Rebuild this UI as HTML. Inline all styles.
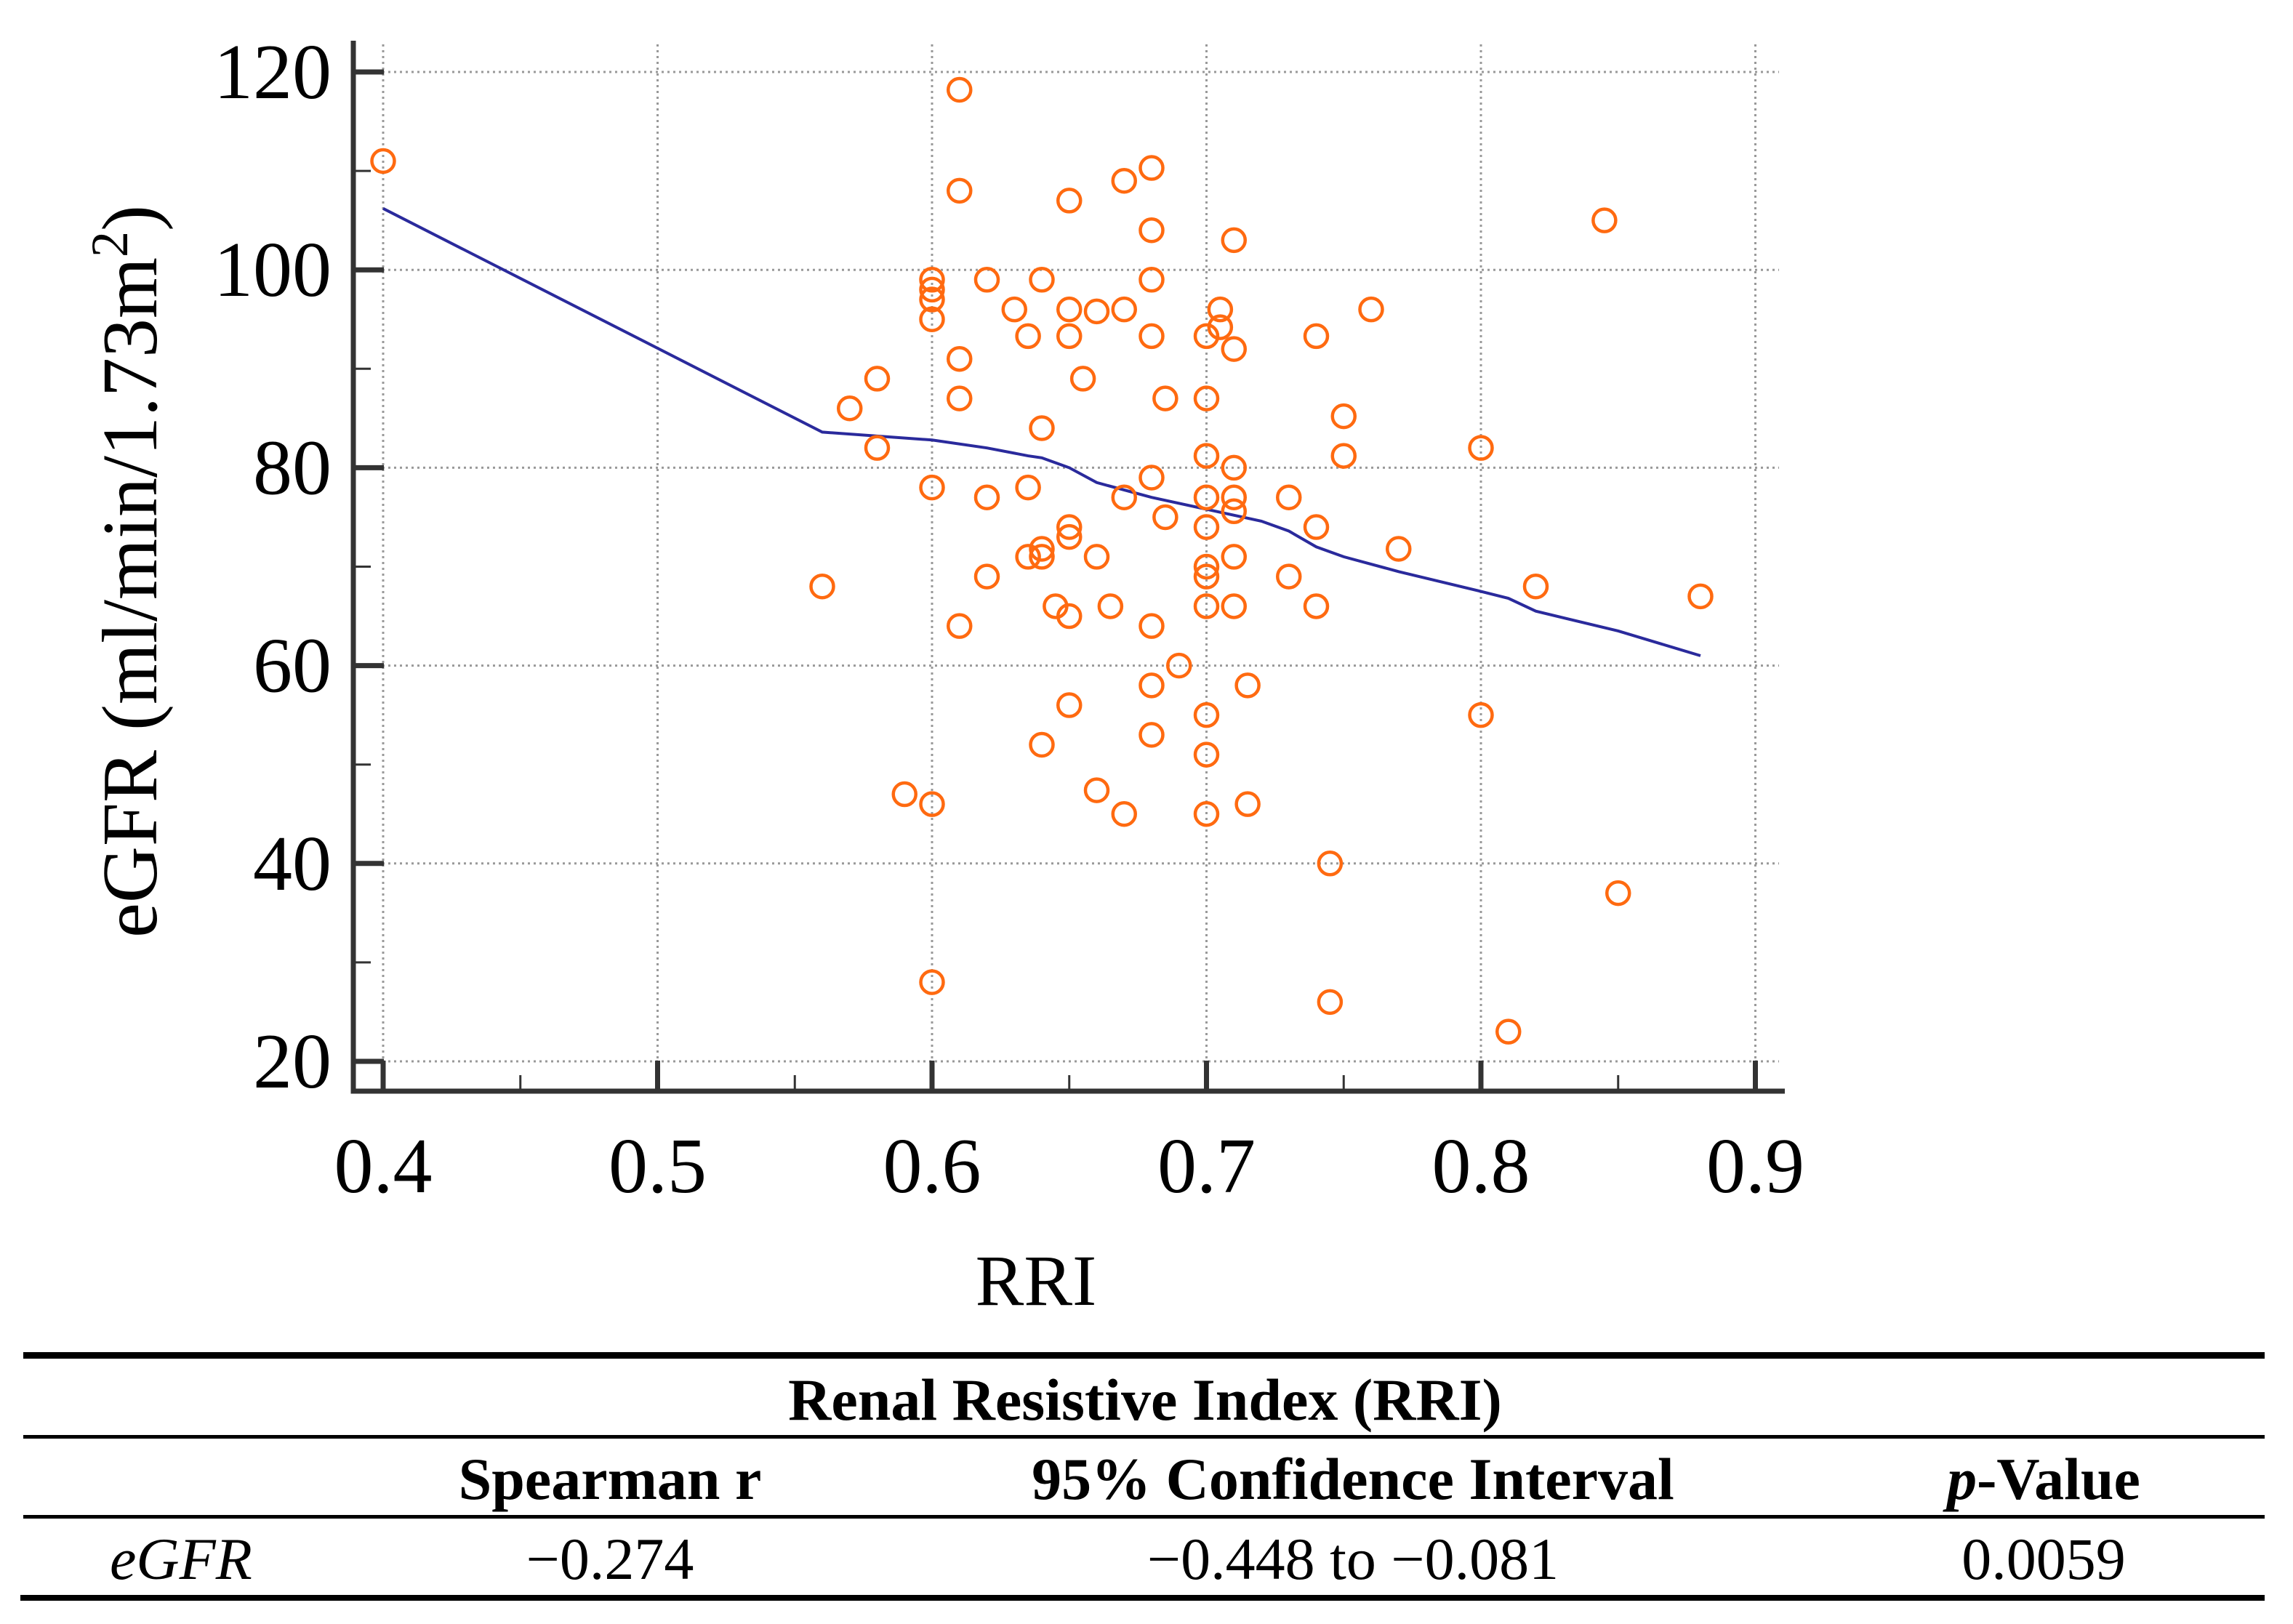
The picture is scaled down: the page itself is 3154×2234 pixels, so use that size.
<!DOCTYPE html>
<html><head><meta charset="utf-8"><style>
html,body{margin:0;padding:0;background:#fff;}
body{width:3154px;height:2234px;overflow:hidden;position:relative;font-family:"Liberation Serif",serif;}
</style></head><body>
<svg id="chart" width="3154" height="2234" viewBox="0 0 3154 2234" xmlns="http://www.w3.org/2000/svg" style="position:absolute;left:0;top:0">
<g id="grid"></g><g id="axes"></g><g id="fit"></g><g id="pts"></g><g id="labels"></g>
<text transform="translate(215,786) rotate(-90)" text-anchor="middle" font-family="Liberation Serif, serif" font-size="108" fill="#000">eGFR (ml/min/1.73m<tspan baseline-shift="super" font-size="72">2</tspan>)</text>
<text x="1425" y="1795" text-anchor="middle" font-family="Liberation Serif, serif" font-size="100" fill="#000">RRI</text>
<g font-family="Liberation Serif, serif" fill="#000">
<rect x="32" y="1860" width="3083" height="9"/>
<text x="1575" y="1953" text-anchor="middle" font-size="82" font-weight="bold">Renal Resistive Index (RRI)</text>
<rect x="32" y="1974" width="3083" height="5"/>
<text x="839" y="2062" text-anchor="middle" font-size="82" font-weight="bold">Spearman r</text>
<text x="1861" y="2062" text-anchor="middle" font-size="82" font-weight="bold">95% Confidence Interval</text>
<text x="2811" y="2062" text-anchor="middle" font-size="82" font-weight="bold"><tspan font-style="italic">p</tspan>-Value</text>
<rect x="32" y="2084" width="3083" height="5"/>
<text x="151" y="2172" font-size="82" font-style="italic">eGFR</text>
<text x="839" y="2172" text-anchor="middle" font-size="82">−0.274</text>
<text x="1861" y="2172" text-anchor="middle" font-size="82">−0.448 to −0.081</text>
<text x="2811" y="2172" text-anchor="middle" font-size="82">0.0059</text>
<rect x="28" y="2194" width="3087" height="8"/>
</g>
</svg>
<script>
const xTicks=[0.4,0.5,0.6,0.7,0.8,0.9];
const xTickLabels=["0.4","0.5","0.6","0.7","0.8","0.9"];
const yTicks=[20,40,60,80,100,120];
const yTickLabels=["20","40","60","80","100","120"];
const fitX=[0.4,0.56,0.6,0.62,0.635,0.64,0.65,0.66,0.68,0.7,0.72,0.73,0.74,0.75,0.77,0.8,0.81,0.82,0.85,0.88];
const fitY=[106.2,83.6,82.8,82.0,81.2,81.0,80.0,78.5,77.0,75.8,74.6,73.6,72.0,71.0,69.5,67.5,66.8,65.5,63.5,61.0];
const rri=[0.40,0.61,0.61,0.65,0.67,0.68,0.68,0.71,0.845,0.60,0.60,0.60,0.60,0.62,0.64,0.68,0.63,0.65,0.66,0.67,0.705,0.705,0.76,0.635,0.65,0.68,0.70,0.71,0.74,0.61,0.655,0.58,0.61,0.57,0.685,0.70,0.75,0.64,0.58,0.80,0.70,0.75,0.71,0.60,0.635,0.68,0.62,0.67,0.70,0.71,0.73,0.71,0.685,0.70,0.74,0.65,0.65,0.64,0.64,0.635,0.66,0.71,0.70,0.70,0.62,0.73,0.77,0.56,0.82,0.88,0.645,0.665,0.70,0.71,0.74,0.65,0.61,0.68,0.69,0.68,0.715,0.65,0.70,0.80,0.68,0.64,0.70,0.59,0.66,0.60,0.715,0.67,0.70,0.745,0.85,0.60,0.745,0.81];
const egfr=[111,118.2,108,107,109,110.3,104,103,105,99,98,97,95,99,99,99,96,96,95.8,96,96,94.2,96,93.3,93.3,93.3,93.3,92,93.3,91,89,89,87,86,87,87,85.2,84,82,82,81.2,81.2,80,78,78,79,77,77,77,77,77,75.6,75,74,74,74,73,71.8,71,71,71,71,70,69,69,69,71.8,68,68,67,66,66,66,66,66,65,64,64,60,58,58,56,55,55,53,52,51,47,47.4,46,46,45,45,40,37,28,26,23];
const NS="http://www.w3.org/2000/svg";
const X0=486,X1=2455,Y0=1501,Y1=56;
function sx(v){return 527+(v-0.4)*3775;}
function sy(v){return 1460-(v-20)*13.61;}
function mk(parent,tag,attrs){const e=document.createElementNS(NS,tag);for(const k in attrs)e.setAttribute(k,attrs[k]);document.getElementById(parent).appendChild(e);return e;}
xTicks.forEach((t,i)=>{
  let g=mk('grid','line',{x1:sx(t),x2:sx(t),y1:61,y2:Y0,stroke:'#999','stroke-width':3,'stroke-dasharray':'3,5'});
  
  
  let tk=mk('axes','line',{x1:sx(t),x2:sx(t),y1:Y0,y2:Y0-42,stroke:'#333','stroke-width':7});
  
  
  if(i<xTicks.length-1){let m=mk('axes','line',{x1:sx(t+0.05),x2:sx(t+0.05),y1:Y0,y2:Y0-22,stroke:'#333','stroke-width':3});
  
  }
  let l=mk('labels','text',{x:sx(t),y:1640,'text-anchor':'middle','font-size':108,'font-family':'Liberation Serif, serif'});
  l.textContent=xTickLabels[i];
  
  
});
yTicks.forEach((t,i)=>{
  let g=mk('grid','line',{x1:X0,x2:2447,y1:sy(t),y2:sy(t),stroke:'#999','stroke-width':3,'stroke-dasharray':'3,5'});
  
  
  let tk=mk('axes','line',{x1:X0,x2:X0+42,y1:sy(t),y2:sy(t),stroke:'#333','stroke-width':7});
  
  
  if(i<yTicks.length-1){let m=mk('axes','line',{x1:X0,x2:X0+24,y1:sy(t+10),y2:sy(t+10),stroke:'#333','stroke-width':3});
  
  }
  let l=mk('labels','text',{x:456,y:sy(t)+36,'text-anchor':'end','font-size':108,'font-family':'Liberation Serif, serif'});
  l.textContent=yTickLabels[i];
  
  
});
let ax=mk('axes','path',{d:`M${X0},${Y1} L${X0},${Y0} L${X1},${Y0}`,fill:'none',stroke:'#333','stroke-width':7});


let fl=mk('fit','polyline',{points:fitX.map((v,i)=>sx(v)+','+sy(fitY[i])).join(' '),fill:'none',stroke:'#2a2a9c','stroke-width':4});


rri.forEach((v,i)=>{
  let c=mk('pts','circle',{cx:sx(v),cy:sy(egfr[i]),r:15.5,fill:'none',stroke:'#ff6a10','stroke-width':4.5});
  
  
});
</script>
</body></html>
